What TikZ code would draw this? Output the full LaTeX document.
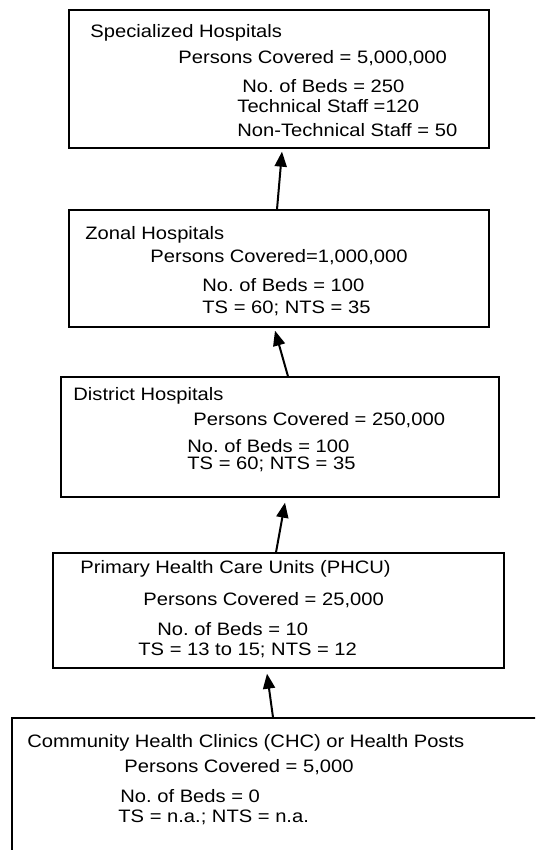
\documentclass[tikz,border=0pt]{standalone}
\usepackage{fontspec}
\setmainfont[FakeStretch=1.12]{Liberation Sans}
\usepackage{tikz}
\usetikzlibrary{arrows.meta}
\frenchspacing
\tikzset{every node/.append style={font=\fontsize{9}{11}\selectfont}}
\tikzset{
    tier/.style={draw, line width=0.65pt, inner sep=0pt},
    txt/.style={anchor=base west, inner sep=0pt, text height=6.6pt, text depth=1.5pt},
    up/.style={line width=1pt, -{Triangle[width=6pt, length=7.5pt]}}
}

\begin{document}
\begin{tikzpicture}[x=0.5pt, y=-0.5pt]
    \useasboundingbox (0,0) rectangle (535,850);
    \clip (0,0) rectangle (535,850);
    % the five levels, top to bottom
    \node[tier, minimum width=210pt, minimum height=69pt] (spec) at (279,79) {};
    \node[tier, minimum width=210pt, minimum height=58.5pt] (zonal) at (279,268.5) {};
    \node[tier, minimum width=219pt, minimum height=60pt] (district) at (280,437) {};
    \node[tier, minimum width=225.5pt, minimum height=57.5pt] (phcu) at (278.5,610.5) {};
    \node[tier, minimum width=274pt, minimum height=81pt] (chc) at (286,799) {};

    \node[txt] (spec1) at (90,38) {Specialized Hospitals};
    \node[txt] (spec2) at (178,64) {Persons Covered = 5,000,000};
    \node[txt] (spec3) at (242,93) {No. of Beds = 250};
    \node[txt] (spec4) at (237,113) {Technical Staff =120};
    \node[txt] (spec5) at (237,137) {Non-Technical Staff = 50};

    \node[txt] (zonal1) at (85,240) {Zonal Hospitals};
    \node[txt] (zonal2) at (150,263) {Persons Covered=1,000,000};
    \node[txt] (zonal3) at (202,291) {No. of Beds = 100};
    \node[txt] (zonal4) at (202,313) {TS = 60; NTS = 35};

    \node[txt] (district1) at (73,400) {District Hospitals};
    \node[txt] (district2) at (193,425) {Persons Covered = 250,000};
    \node[txt] (district3) at (187,452) {No. of Beds = 100};
    \node[txt] (district4) at (187,469) {TS = 60; NTS = 35};

    \node[txt] (phcu1) at (80,573) {Primary Health Care Units (PHCU)};
    \node[txt] (phcu2) at (143,605) {Persons Covered = 25,000};
    \node[txt] (phcu3) at (157,635) {No. of Beds = 10};
    \node[txt] (phcu4) at (138,655) {TS = 13 to 15; NTS = 12};

    \node[txt] (chc1) at (27,747) {Community Health Clinics (CHC) or Health Posts};
    \node[txt] (chc2) at (124,772) {Persons Covered = 5,000};
    \node[txt] (chc3) at (120,802) {No. of Beds = 0};
    \node[txt] (chc4) at (118,822) {TS = n.a.; NTS = n.a.};

    % referral arrows
    \draw[up] ([xshift=-1pt]zonal.north) -- ([xshift=1.5pt, yshift=-1.5pt]spec.south);
    \draw[up] ([xshift=4pt]district.north) -- ([xshift=-2pt, yshift=-1.5pt]zonal.south);
    \draw[up] ([xshift=-1.25pt]phcu.north) -- ([xshift=2.5pt, yshift=-2.5pt]district.south);
    \draw[up] ([xshift=-6.5pt]chc.north) -- ([xshift=-5.75pt, yshift=-2.5pt]phcu.south);
\end{tikzpicture}
\end{document}
